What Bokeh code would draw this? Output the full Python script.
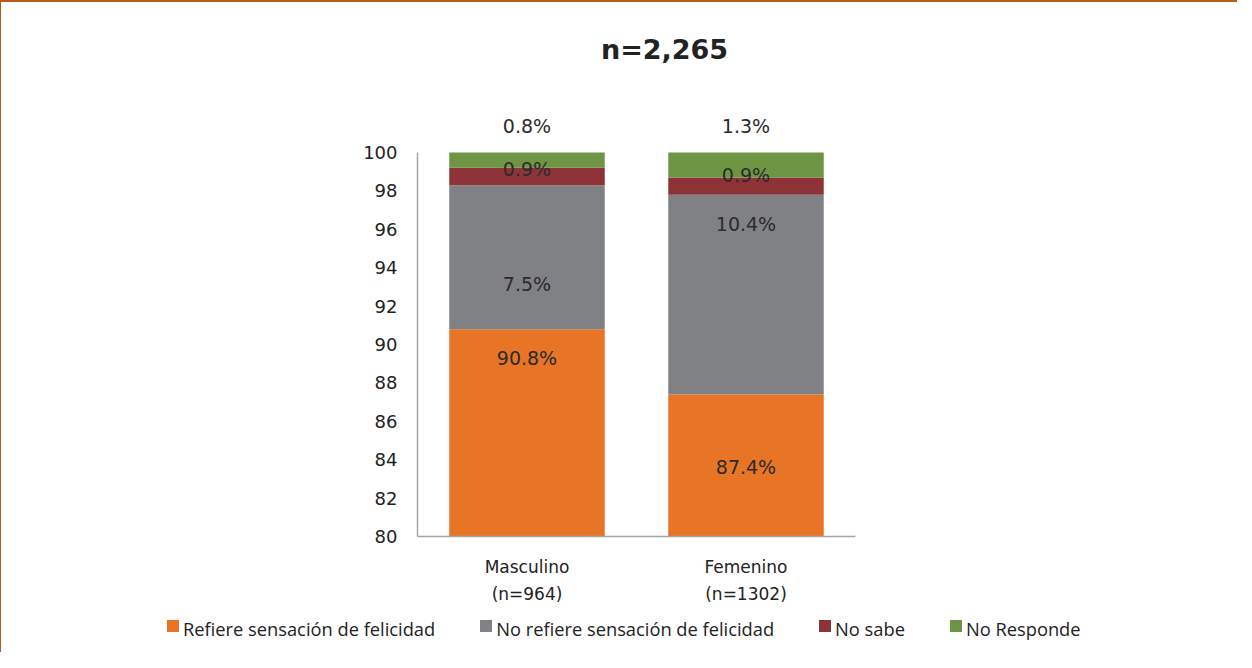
from bokeh.plotting import figure
from bokeh.models import (ColumnDataSource, FactorRange, Range1d, LabelSet, Label, Div)
from bokeh.layouts import column
from bokeh.core.properties import value
from bokeh.embed import file_html
from bokeh.resources import INLINE

# ---- data ----
categories = ["Masculino", "Femenino"]
category_n = ["(n=964)", "(n=1302)"]
series = ["Refiere sensación de felicidad", "No refiere sensación de felicidad",
          "No sabe", "No Responde"]
refiere = [90.8, 87.4]
no_refiere = [7.5, 10.4]
no_sabe = [0.9, 0.9]
no_responde = [0.8, 1.3]
title_text = "n=2,265"
y_ticks = [80, 82, 84, 86, 88, 90, 92, 94, 96, 98, 100]

colors = ["#E87425", "#808185", "#8D3337", "#6D9544"]
keys = ["refiere", "no_refiere", "no_sabe", "no_responde"]

# x factors carry the two-line category label
factors = [f"{c}\n{n}" for c, n in zip(categories, category_n)]

src = ColumnDataSource(dict(cat=factors, refiere=refiere, no_refiere=no_refiere,
                            no_sabe=no_sabe, no_responde=no_responde))

W = 1236
FRAME_L, FRAME_T, FRAME_W, FRAME_H = 416, 26, 438, 508
BOTTOM = 72
Y_MIN, Y_MAX = 80, 100
PX_PER_UNIT = 19.2
Y_END = Y_MAX + (FRAME_H - (Y_MAX - Y_MIN) * PX_PER_UNIT) / PX_PER_UNIT

p = figure(x_range=FactorRange(*factors), y_range=Range1d(Y_MIN, Y_END),
           frame_width=FRAME_W, frame_height=FRAME_H,
           output_backend="svg", toolbar_location=None,
           min_border_left=FRAME_L, min_border_top=FRAME_T,
           min_border_right=W - FRAME_L - FRAME_W,
           min_border_bottom=BOTTOM)
p.x_range.range_padding = 0.0
p.x_range.factor_padding = 0.0
p.outline_line_color = None
p.xgrid.grid_line_color = None
p.ygrid.grid_line_color = None
p.background_fill_color = "white"
p.border_fill_color = "white"

renderers = p.vbar_stack(keys, x="cat", width=0.71, source=src, color=colors,
                         line_color=None)

# axes
p.yaxis.ticker = y_ticks
p.yaxis.bounds = (Y_MIN, Y_MAX)
p.yaxis.axis_line_color = "#A6A6A6"
p.yaxis.axis_line_width = 1.5
p.yaxis.major_tick_line_color = None
p.yaxis.minor_tick_line_color = None
p.yaxis.major_label_standoff = 14
p.yaxis.major_label_text_font = "DejaVu Sans"
p.yaxis.major_label_text_font_size = "18px"
p.yaxis.major_label_text_color = "#222222"
p.xaxis.axis_line_color = "#A6A6A6"
p.xaxis.axis_line_width = 1.5
p.xaxis.major_tick_line_color = None
p.xaxis.minor_tick_line_color = None
p.xaxis.major_label_standoff = 14
p.xaxis.major_label_text_font = "DejaVu Sans"
p.xaxis.major_label_text_font_size = "17px"
p.xaxis.major_label_text_color = "#222222"
p.xaxis.major_label_text_line_height = 1.35

# title (inside the tall frame, above the 100 line)
p.add_layout(Label(x=1.128, y=Y_MAX, y_offset=103, text=title_text,
                   text_align="center", text_baseline="middle",
                   text_font="DejaVu Sans", text_font_style="bold",
                   text_font_size="27px", text_color="#222222"))

# value labels: anchored at top of each segment, nudged in pixels
stack_vals = [refiere, no_refiere, no_sabe, no_responde]
nudges = [[-29, -73], [-99, -29], [-1, 2.5], [27, 27]]
lx, ly, lt, lo = [], [], [], []
for s, vals in enumerate(stack_vals):
    for i, f in enumerate(factors):
        top = sum(stack_vals[k][i] for k in range(s + 1))
        lx.append(f)
        ly.append(top)
        lt.append(f"{vals[i]:.1f}%")
        lo.append(nudges[s][i])
lab_src = ColumnDataSource(dict(x=lx, y=ly, t=lt, o=lo))
p.add_layout(LabelSet(x="x", y="y", text="t", y_offset="o", source=lab_src,
                      text_align="center", text_baseline="middle",
                      text_font=value("DejaVu Sans"), text_font_size="19px",
                      text_color="#2b2b2b"))

# legend strip (HTML, so it can extend beyond the chart frame)
items_html = "".join(
    f'<span style="display:inline-block;width:12px;height:12px;background:{colors[i]};'
    f'margin-right:4px;margin-bottom:6px"></span>'
    f'<span style="margin-right:{45 if i < 3 else 0}px">{series[i]}</span>'
    for i in range(4))
legend_div = Div(
    text=(f'<div style="display:flex;align-items:center;white-space:nowrap;'
          f'padding-left:166px;padding-top:11px;font-family:\'Open Sans\';'
          f'font-size:18.3px;line-height:20px;color:#222222">{items_html}</div>'),
    width=W, height=44,
    styles={"margin": "0", "padding": "0", "background": "white"})

layout = column(p, legend_div, spacing=0)
layout.styles = {"border-top": "3px solid #B35C1E", "border-left": "3px solid #B35C1E",
                 "margin-left": "-2px", "margin-top": "-1px", "background": "white"}

open("out.html", "w").write(file_html(layout, INLINE))
